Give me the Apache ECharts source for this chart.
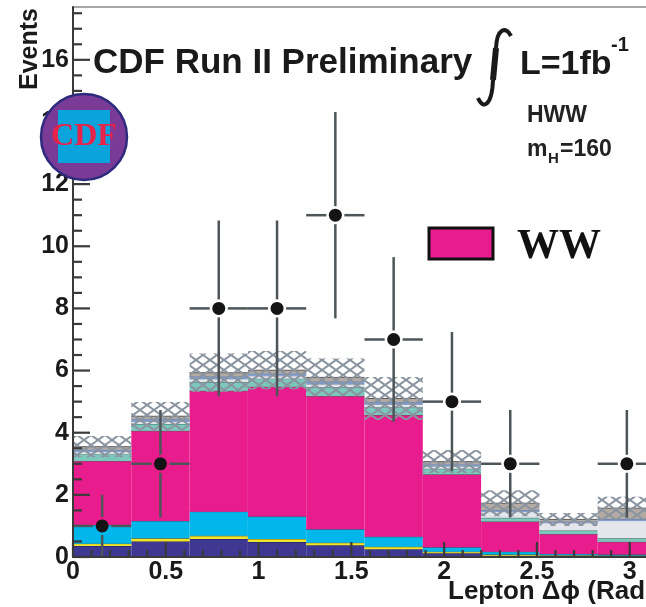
<!DOCTYPE html>
<html>
<head>
<meta charset="utf-8">
<script src="https://cdn.jsdelivr.net/npm/echarts@6/dist/echarts.min.js"></script>
<style>
html,body{margin:0;padding:0;background:#fff;}
#chart{width:646px;height:607px;}
</style>
</head>
<body>
<div id="chart"></div>
<script>
// histogram: 10 bins from 0 to pi
var nBins = 10;
var xMax = Math.PI;

// stacked backgrounds, bottom to top (events per bin)
var purple = [0.35, 0.50, 0.58, 0.48, 0.38, 0.25, 0.12, 0.04, 0.03, 0.02];
var yellow = [0.08, 0.10, 0.10, 0.10, 0.08, 0.08, 0.05, 0.04, 0.03, 0.03];
var cyan   = [0.60, 0.56, 0.78, 0.72, 0.43, 0.32, 0.14, 0.09, 0.04, 0.03];
var ww     = [2.06, 2.90, 3.89, 4.18, 4.29, 3.92, 2.35, 0.97, 0.64, 0.41];
var teal   = [0.22, 0.22, 0.28, 0.26, 0.28, 0.25, 0.18, 0.12, 0.11, 0.11];
var light  = [0.08, 0.08, 0.10, 0.09, 0.10, 0.09, 0.08, 0.20, 0.25, 0.57];
var blue   = [0.06, 0.07, 0.08, 0.07, 0.09, 0.08, 0.06, 0.05, 0.04, 0.05];
var tan    = [0.10, 0.10, 0.12, 0.11, 0.13, 0.11, 0.09, 0.22, 0.07, 0.35];
// systematic band half width
var syst   = [0.34, 0.46, 0.62, 0.62, 0.61, 0.69, 0.37, 0.42, 0.21, 0.37];
// data points
var dataCounts = [1, 3, 8, 8, 11, 7, 5, 3, null, 3];
var dataErr    = [1.0, 1.73, 2.83, 2.83, 3.32, 2.65, 2.24, 1.73, null, 1.73];

var yTicks = [0, 2, 4, 6, 8, 10, 12, 14, 16];
var xTicks = [0, 0.5, 1, 1.5, 2, 2.5, 3];

var layers = [
  {v: purple, fill: '#3e3893', edge: '#25205e'},
  {v: yellow, fill: '#f1e52c', edge: '#5b5a2a'},
  {v: cyan,   fill: '#00b6ea', edge: '#1f5d78'},
  {v: ww,     fill: '#e81c8c', edge: '#5a5a5a'},
  {v: teal,   fill: '#7dc8bc', edge: '#3f6d66'},
  {v: light,  fill: '#e4e6ec', edge: '#9aa0a8'},
  {v: blue,   fill: '#7b9bd1', edge: '#6a7fa8'},
  {v: tan,    fill: '#b3aba3', edge: '#5f5a56'}
];

var w = xMax / nBins;
var font = '"Liberation Sans", Arial, Helvetica, sans-serif';

function makeHatch() {
  var c = document.createElement('canvas');
  c.width = 14; c.height = 10;
  var g = c.getContext('2d');
  g.strokeStyle = 'rgba(138,148,160,1)';
  g.lineWidth = 2;
  g.beginPath();
  g.moveTo(0, 0); g.lineTo(14, 10);
  g.moveTo(0, 10); g.lineTo(14, 0);
  g.stroke();
  return c;
}
var hatch = makeHatch();

function boxItem(fill, edge) {
  return function (params, api) {
    var p0 = api.coord([api.value(0), api.value(3)]);
    var p1 = api.coord([api.value(1), api.value(2)]);
    return {type: 'group', children: [
      {type: 'rect', shape: {x: p0[0], y: p0[1], width: p1[0] - p0[0], height: p1[1] - p0[1]},
       style: {fill: fill}},
      {type: 'line', shape: {x1: p0[0], y1: p0[1], x2: p1[0], y2: p0[1]},
       style: {stroke: edge, lineWidth: 1}}
    ]};
  };
}

// inside ticks (major + minor) placed through the axis scales
function tickLines(api) {
  var kids = [];
  for (var k = 0; k <= 35; k++) {
    var p = api.coord([0, k * 0.5]);
    var len = (k % 4 === 0) ? 17 : 9;
    kids.push({type: 'line', shape: {x1: p[0], y1: p[1], x2: p[0] + len, y2: p[1]},
               style: {stroke: '#3a3a3a', lineWidth: 2.2}});
  }
  for (var j = 0; j <= 31; j++) {
    var q = api.coord([j * 0.1, 0]);
    var len2 = (j % 5 === 0) ? 15 : 7;
    kids.push({type: 'line', shape: {x1: q[0], y1: q[1], x2: q[0], y2: q[1] - len2},
               style: {stroke: '#3a3a3a', lineWidth: 2.2}});
  }
  return kids;
}

var series = [];
var base = [];
for (var i = 0; i < nBins; i++) base.push(0);
layers.forEach(function (L) {
  var d = [];
  for (var i = 0; i < nBins; i++) {
    d.push([i * w, (i + 1) * w, base[i], base[i] + L.v[i]]);
    base[i] += L.v[i];
  }
  series.push({type: 'custom', renderItem: boxItem(L.fill, L.edge), data: d, z: 2});
});

// uncertainty band (the last item also carries the axis ticks)
var band = [];
for (var i = 0; i < nBins; i++) {
  band.push([i * w, (i + 1) * w, base[i] - syst[i], base[i] + syst[i]]);
}
series.push({
  type: 'custom', z: 3, data: band,
  renderItem: function (params, api) {
    var p0 = api.coord([api.value(0), api.value(3)]);
    var p1 = api.coord([api.value(1), api.value(2)]);
    var kids = [{type: 'rect', shape: {x: p0[0], y: p0[1], width: p1[0] - p0[0], height: p1[1] - p0[1]},
      style: {fill: {image: hatch, repeat: 'repeat'}}}];
    if (params.dataIndex === nBins - 1) kids = kids.concat(tickLines(api));
    return {type: 'group', children: kids};
  }
});

// data points with error bars
var pts = [];
for (var i = 0; i < nBins; i++) {
  if (dataCounts[i] === null) continue;
  pts.push([i * w, (i + 1) * w, dataCounts[i], dataErr[i]]);
}
series.push({
  type: 'custom', z: 5, data: pts,
  renderItem: function (params, api) {
    var x0 = api.value(0), x1 = api.value(1), v = api.value(2), e = api.value(3);
    var xc = (x0 + x1) / 2;
    var c = api.coord([xc, v]);
    var l = api.coord([x0, v])[0], r = api.coord([x1, v])[0];
    var top = api.coord([xc, v + e])[1];
    var bot = api.coord([xc, Math.max(v - e, 0)])[1];
    var gap = 9;
    var st = {stroke: '#4d5558', lineWidth: 2.5};
    var kids = [
      {type: 'line', shape: {x1: l, y1: c[1], x2: c[0] - gap, y2: c[1]}, style: st},
      {type: 'line', shape: {x1: c[0] + gap, y1: c[1], x2: r, y2: c[1]}, style: st},
      {type: 'line', shape: {x1: c[0], y1: top, x2: c[0], y2: c[1] - gap}, style: st},
      {type: 'line', shape: {x1: c[0], y1: c[1] + gap, x2: c[0], y2: bot}, style: st},
      {type: 'circle', shape: {cx: c[0], cy: c[1], r: 6.5}, style: {fill: '#141414'}}
    ];
    return {type: 'group', children: kids};
  }
});

var intStyle = {stroke: '#1a1a1a', lineWidth: 4, fill: null};

var myChart = echarts.init(document.getElementById('chart'));
var option = {
  animation: false,
  backgroundColor: '#fff',
  grid: {left: 73, top: 7, width: 583, height: 550, outerBoundsMode: 'none', containLabel: false},
  xAxis: [{
    type: 'value', min: 0, max: xMax, interval: 0.5, z: 10,
    axisLine: {show: true, onZero: false, lineStyle: {color: '#3a3a3a', width: 2}},
    axisTick: {show: false},
    splitLine: {show: false},
    axisLabel: {
      margin: 3, showMaxLabel: false, color: '#1a1a1a', fontFamily: font, fontWeight: 'bold', fontSize: 25,
      formatter: function (v) { return xTicks.indexOf(v) >= 0 ? String(v) : ''; }
    }
  }, {
    type: 'value', position: 'top', min: 0, max: xMax,
    axisLine: {show: true, onZero: false, lineStyle: {color: '#8a8a8a', width: 1.5}},
    axisTick: {show: false}, axisLabel: {show: false}, splitLine: {show: false}
  }],
  yAxis: {
    type: 'value', min: 0, max: 17.7, interval: 2, z: 10,
    axisLine: {show: true, onZero: false, lineStyle: {color: '#3a3a3a', width: 2}},
    axisTick: {show: false},
    splitLine: {show: false},
    axisLabel: {
      margin: 4, showMaxLabel: false, color: '#1a1a1a', fontFamily: font, fontWeight: 'bold', fontSize: 25,
      formatter: function (v) { return yTicks.indexOf(v) >= 0 ? String(v) : ''; }
    }
  },
  series: series,
  graphic: [
    // axis titles
    {type: 'text', x: 30, y: 49, rotation: Math.PI / 2, z: 50,
     style: {text: 'Events', font: 'bold 25px ' + font, fill: '#1a1a1a', textAlign: 'center', textVerticalAlign: 'middle'}},
    {type: 'text', x: 448, y: 592, z: 50,
     style: {text: 'Lepton Δϕ (Rads)', font: 'bold 26px ' + font, fill: '#1a1a1a', textAlign: 'left', textVerticalAlign: 'middle'}},
    // title
    {type: 'text', x: 93, y: 63, z: 50,
     style: {text: 'CDF Run II Preliminary', font: 'bold 35px ' + font, fill: '#1a1a1a', textAlign: 'left', textVerticalAlign: 'middle'}},
    {type: 'bezierCurve', z: 50, shape: {x1: 478, y1: 98, cpx1: 483, cpy1: 110, cpx2: 492, cpy2: 106, x2: 493, y2: 80}, style: intStyle},
    {type: 'line', z: 50, shape: {x1: 493, y1: 80, x2: 496, y2: 48}, style: {stroke: '#1a1a1a', lineWidth: 6}},
    {type: 'bezierCurve', z: 50, shape: {x1: 496, y1: 48, cpx1: 497, cpy1: 28, cpx2: 506, cpy2: 26, x2: 511, y2: 36}, style: intStyle},
    {type: 'text', x: 520, y: 65, z: 50,
     style: {text: 'L=1fb', font: 'bold 34px ' + font, fill: '#1a1a1a', textAlign: 'left', textVerticalAlign: 'middle'}},
    {type: 'text', x: 611, y: 45, z: 50,
     style: {text: '-1', font: 'bold 20px ' + font, fill: '#1a1a1a', textAlign: 'left', textVerticalAlign: 'middle'}},
    {type: 'text', x: 527, y: 116, z: 50,
     style: {text: 'HWW', font: 'bold 23px ' + font, fill: '#222', textAlign: 'left', textVerticalAlign: 'middle'}},
    {type: 'text', x: 527, y: 150, z: 50,
     style: {text: 'm', font: 'bold 23px ' + font, fill: '#222', textAlign: 'left', textVerticalAlign: 'middle'}},
    {type: 'text', x: 548, y: 159, z: 50,
     style: {text: 'H', font: 'bold 15px ' + font, fill: '#222', textAlign: 'left', textVerticalAlign: 'middle'}},
    {type: 'text', x: 560, y: 150, z: 50,
     style: {text: '=160', font: 'bold 23px ' + font, fill: '#222', textAlign: 'left', textVerticalAlign: 'middle'}},
    // legend
    {type: 'rect', z: 50, shape: {x: 429, y: 228, width: 64, height: 31},
     style: {fill: '#e81c8c', stroke: '#111', lineWidth: 3}},
    {type: 'text', x: 517, y: 247, z: 50,
     style: {text: 'WW', font: 'bold 42px "Liberation Serif", "Times New Roman", serif', fill: '#111', textAlign: 'left', textVerticalAlign: 'middle'}},
    // CDF logo
    {type: 'circle', z: 60, shape: {cx: 84, cy: 137, r: 43},
     style: {fill: '#7a3b97', stroke: '#2e2b7e', lineWidth: 2.5}},
    {type: 'rect', z: 61, shape: {x: 58, y: 110, width: 52, height: 53}, style: {fill: '#0aa3dc'}},
    {type: 'text', x: 84, y: 137, z: 62,
     style: {text: 'CDF', font: 'bold 32px "Liberation Serif", "Times New Roman", serif', fill: '#e8234a', textAlign: 'center', textVerticalAlign: 'middle'}}
  ]
};
myChart.setOption(option);
</script>
</body>
</html>
